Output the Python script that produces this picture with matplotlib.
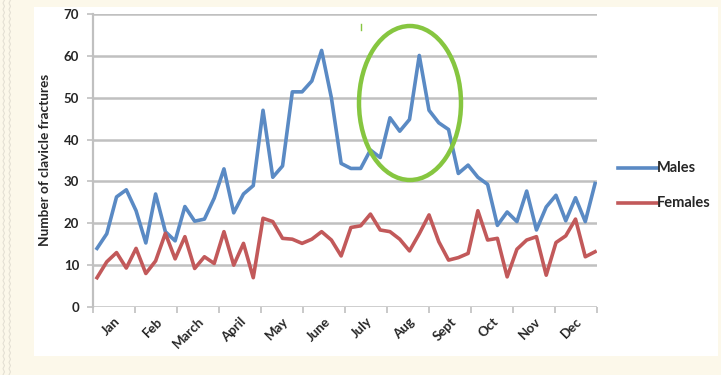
import matplotlib
matplotlib.use("Agg")
import matplotlib.pyplot as plt
from matplotlib.patches import Ellipse, Rectangle
from matplotlib.lines import Line2D
import numpy as np

# Weekly clavicle fracture counts over one year
weeks = list(range(52))
males = [14, 17.5, 26.3, 28, 23, 15.3, 27, 18, 15.8, 24, 20.5, 21, 26, 33,
         22.5, 27, 29, 47, 31, 33.7, 51.4, 51.4, 54, 61.3, 50, 34.3, 33.1, 33.1,
         37.5, 35.7, 45.2, 42, 44.8, 60.1, 47, 44, 42.4, 31.9, 33.9, 31, 29.3,
         19.5, 22.7, 20.4, 27.7, 18.4, 23.9, 26.7, 20.6, 26.1, 20.4, 29.5]
females = [7, 10.8, 13, 9.3, 14, 8, 11, 17.6, 11.5, 16.8, 9.2, 12, 10.4, 18,
           10, 15.2, 7, 21.2, 20.4, 16.4, 16.2, 15.2, 16.2, 18, 16, 12.2, 19,
           19.4, 22.2, 18.4, 18, 16.2, 13.4, 17.5, 22, 15.6, 11.2, 11.8, 12.8,
           23, 16, 16.4, 7.2, 13.8, 16, 16.8, 7.6, 15.4, 17, 21, 12, 13.2]
months = ["Jan", "Feb", "March", "April", "May", "June", "July", "Aug",
          "Sept", "Oct", "Nov", "Dec"]
y_ticks = [0, 10, 20, 30, 40, 50, 60, 70]

W, H = 721, 375
fig = plt.figure(figsize=(W / 100, H / 100), dpi=100, facecolor="#FCF8EA")

# faint wavy texture down the left margin
zy = np.linspace(0, 1, 120)
for xs in (3, 9):
    zx = (xs + 1.5 * (np.arange(len(zy)) % 2)) / W
    fig.add_artist(Line2D(zx, zy, transform=fig.transFigure, color="#E4E0D4",
                          lw=0.8, zorder=-2))

# white card behind the chart
fig.patches.append(Rectangle((34 / W, 1 - 356 / H), (718 - 34) / W, (356 - 7) / H,
                             transform=fig.transFigure, facecolor="white",
                             edgecolor="none", zorder=-1))

ax = fig.add_axes([93 / W, 1 - 307 / H, (597 - 93) / W, (307 - 14) / H])
ax.set_facecolor("none")
ax.set_zorder(1)

blue = "#5A8AC4"
red = "#C2595A"
grid_c = "#C0C0C0"
txt_c = "#262626"
font = "Lato"

ax.plot(weeks, males, color=blue, lw=2.6, solid_joinstyle="round", zorder=3)
ax.plot(weeks, females, color=red, lw=2.6, solid_joinstyle="round", zorder=3)

x0, x1 = -0.41, 51.2
ax.set_xlim(x0, x1)
ax.set_ylim(0, 70)

for v in y_ticks:
    ax.axhline(v, color=grid_c, lw=1.8, zorder=1)

for s in ["top", "right", "bottom"]:
    ax.spines[s].set_visible(False)
ax.spines["left"].set_color(grid_c)
ax.spines["left"].set_linewidth(1.6)

ax.set_yticks(y_ticks)
ax.set_yticklabels([str(v) for v in y_ticks], fontsize=9.5, fontweight="bold",
                   color=txt_c, family=font)
ax.tick_params(axis="y", length=4, width=1.2, color=grid_c, pad=6)

bounds = np.linspace(x0, x1, len(months) + 1)
centers = (bounds[:-1] + bounds[1:]) / 2
ax.set_xticks(bounds)
ax.set_xticklabels([""] * len(bounds))
ax.tick_params(axis="x", length=4, width=1.2, color=grid_c)
ax.set_xticks(centers, minor=True)
ax.set_xticklabels(months, minor=True, rotation=45, ha="right", va="top",
                   rotation_mode="anchor", fontsize=9.5, color=txt_c,
                   family=font, fontweight="bold")
ax.tick_params(axis="x", which="minor", length=0, pad=6)

fig.text(45 / W, 1 - 160 / H, "Number of clavicle fractures", rotation=90,
         ha="center", va="center", fontsize=9.8, fontweight="bold",
         color=txt_c, family=font)

# legend
for (label, col, yp) in [("Males", blue, 168), ("Females", red, 203)]:
    fig.add_artist(Line2D([618 / W, 657 / W], [1 - yp / H, 1 - yp / H],
                          transform=fig.transFigure, color=col, lw=2.6))
    fig.text(657 / W, 1 - yp / H, label, ha="left", va="center", fontsize=10.5,
             fontweight="bold", color=txt_c, family=font)

# highlight around the August peak
green = "#86C640"
fig.patches.append(Ellipse((410 / W, 1 - 103 / H), 102 / W, 154 / H,
                           transform=fig.transFigure, fill=False,
                           edgecolor=green, lw=3.2, zorder=5))
fig.add_artist(Line2D([361 / W, 361 / W], [1 - 24 / H, 1 - 30 / H],
                      transform=fig.transFigure, color=green, lw=1.0))

fig.savefig("out.png", dpi=100, facecolor=fig.get_facecolor())
